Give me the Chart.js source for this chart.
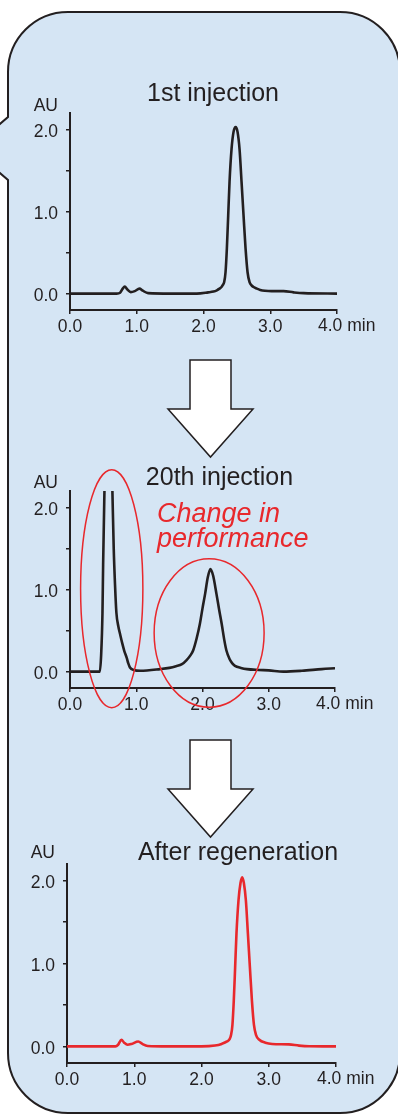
<!DOCTYPE html>
<html>
<head>
<meta charset="utf-8">
<script src="https://cdn.jsdelivr.net/npm/chart.js@4.4.0/dist/chart.umd.min.js"></script>
<style>
  html, body { margin: 0; padding: 0; background: #fff; }
  #page { position: relative; width: 398px; height: 1115px; overflow: hidden; }
  #page svg { position: absolute; left: 0; top: 0; }
  #page canvas { position: absolute; left: 0; }
</style>
</head>
<body>
<div id="page">
  <svg width="398" height="1115">
    <!-- rounded frame with the pointer on the left -->
    <path d="M68 12 H340 A60 60 0 0 1 400 72 V1053 A60 60 0 0 1 340 1113 H68 A60 60 0 0 1 8 1053 V180 L-6 168 V129 L8 117 V72 A60 60 0 0 1 68 12 Z"
          fill="#d5e5f4" stroke="#231f20" stroke-width="2"/>
    <!-- arrows between the runs -->
    <path d="M190 360 H231 V409 H253 L210.5 457 L168 409 H190 Z" fill="#fff" stroke="#231f20" stroke-width="1.5"/>
    <path d="M190 740 H231 V789 H253 L210.5 837 L168 789 H190 Z" fill="#fff" stroke="#231f20" stroke-width="1.5"/>
  </svg>
  <canvas id="grafico1" width="398" height="295" style="top:55px"></canvas>
  <canvas id="grafico2" width="398" height="265" style="top:455px"></canvas>
  <canvas id="grafico3" width="398" height="270" style="top:830px"></canvas>
</div>
<script>
// tick values
const xTicks = [0, 1, 2, 3, 4]
const yTicks = [0, 0.5, 1, 1.5, 2]
const titles = ['1st injection', '20th injection', 'After regeneration']

// 1st injection (min, AU)
const time1 = [0, 0.7, 0.75, 0.79, 0.82, 0.86, 0.91, 0.97, 1.04, 1.09, 1.17, 1.5, 1.9, 2.07, 2.15, 2.20, 2.24, 2.27, 2.29, 2.31, 2.33, 2.35, 2.37, 2.39, 2.42, 2.45, 2.482, 2.51, 2.54, 2.57, 2.60, 2.63, 2.66, 2.69, 2.72, 2.75, 2.8, 2.85, 2.92, 3.02, 3.2, 3.35, 3.5, 4.0]
const au1 = [0, 0, 0.01, 0.06, 0.085, 0.05, 0.018, 0.03, 0.06, 0.035, 0.005, 0, 0, 0.015, 0.025, 0.04, 0.06, 0.08, 0.105, 0.14, 0.26, 0.55, 0.95, 1.36, 1.76, 1.97, 2.03, 1.97, 1.76, 1.36, 0.95, 0.55, 0.26, 0.14, 0.1, 0.08, 0.06, 0.045, 0.035, 0.03, 0.03, 0.015, 0.005, 0]

// 20th injection
const time2 = [0, 0.45, 0.47, 0.49, 0.50, 0.52, 0.54, 0.58, 0.62, 0.64, 0.66, 0.68, 0.70, 0.73, 0.755, 0.79, 0.82, 0.855, 0.88, 0.905, 0.965, 1.06, 1.36, 1.5, 1.6, 1.69, 1.76, 1.82, 1.86, 1.91, 1.96, 2.0, 2.04, 2.08, 2.12, 2.16, 2.21, 2.25, 2.29, 2.33, 2.36, 2.41, 2.45, 2.49, 2.58, 2.67, 2.85, 3.0, 3.22, 3.5, 3.8, 4.0]
const au2 = [0, 0, 0.2, 0.71, 1.3, 2.2, 3.0, 3.5, 2.9, 2.2, 1.5, 1.05, 0.72, 0.55, 0.46, 0.34, 0.25, 0.17, 0.1, 0.05, 0.02, 0.01, 0.03, 0.045, 0.065, 0.09, 0.14, 0.2, 0.26, 0.4, 0.58, 0.77, 0.95, 1.15, 1.25, 1.17, 0.95, 0.76, 0.58, 0.38, 0.26, 0.15, 0.1, 0.07, 0.045, 0.03, 0.02, 0.015, 0, 0.01, 0.03, 0.04]

// after regeneration
const time3 = [0, 0.72, 0.76, 0.81, 0.85, 0.9, 0.96, 1.06, 1.12, 1.2, 1.5, 2.0, 2.2, 2.3, 2.38, 2.42, 2.44, 2.46, 2.48, 2.50, 2.52, 2.55, 2.58, 2.605, 2.63, 2.66, 2.69, 2.72, 2.75, 2.78, 2.81, 2.86, 2.95, 3.05, 3.3, 3.45, 3.6, 4.0]
const au3 = [0, 0, 0.02, 0.08, 0.045, 0.02, 0.03, 0.06, 0.03, 0.005, 0, 0, 0.01, 0.03, 0.06, 0.09, 0.14, 0.26, 0.55, 0.95, 1.36, 1.76, 1.97, 2.04, 1.97, 1.76, 1.36, 0.95, 0.55, 0.26, 0.14, 0.08, 0.045, 0.03, 0.025, 0.01, 0.002, 0]

// circled regions on the 20th run (min, AU)
const circled = [
  { x: 0.63, y: 1.01, rx: 0.47, ry: 1.45 },
  { x: 2.10, y: 0.47, rx: 0.83, ry: 0.905 },
]

const font = "'Liberation Sans', Arial, Helvetica, sans-serif"
const ink = '#231f20'
const red = '#e8282c'

// texts and ellipses drawn on top
const panelText = {
  id: 'panelText',
  afterDraw(chart, args, opts) {
    const { ctx, chartArea, scales } = chart
    ctx.save()
    ctx.fillStyle = ink
    ctx.textBaseline = 'alphabetic'
    ctx.font = '17.5px ' + font
    ctx.textAlign = 'right'
    ctx.fillText('AU', chartArea.left - 12, chartArea.top + opts.auGap)
    ctx.textAlign = 'left'
    ctx.fillText('4.0 min', scales.x.getPixelForValue(4) - 19, chartArea.bottom + 21)
    ctx.font = '25px ' + font
    ctx.textAlign = 'center'
    ctx.fillText(opts.title, opts.titleX, chartArea.top + opts.titleGap)

    if (opts.circles) {
      ctx.strokeStyle = red
      ctx.lineWidth = 1.5
      opts.circles.forEach(c => {
        const cx = scales.x.getPixelForValue(c.x)
        const cy = scales.y.getPixelForValue(c.y)
        const rx = scales.x.getPixelForValue(c.x + c.rx) - cx
        const ry = cy - scales.y.getPixelForValue(c.y + c.ry)
        ctx.beginPath()
        ctx.ellipse(cx, cy, rx, ry, 0, 0, Math.PI * 2)
        ctx.stroke()
      })
    }
    if (opts.notes) {
      ctx.fillStyle = red
      ctx.font = 'italic 27px ' + font
      ctx.textAlign = 'left'
      opts.notes.forEach(n => ctx.fillText(n.text, n.x, chartArea.top + n.dy))
    }
    ctx.restore()
  }
}

function makeChart(id, time, au, color, box, textOpts) {
  const canvas = document.getElementById(id)
  return new Chart(canvas, {
    type: 'line',
    data: {
      datasets: [{
        data: time.map((t, i) => ({ x: t, y: au[i] })),
        borderColor: color,
        borderWidth: 2.6,
        pointRadius: 0,
        cubicInterpolationMode: 'monotone',
        clip: 0,
      }],
    },
    options: {
      responsive: false,
      animation: false,
      layout: { padding: { top: box.top, left: 0, right: 398 - box.right, bottom: 0 } },
      plugins: {
        legend: { display: false },
        tooltip: { enabled: false },
        panelText: textOpts,
      },
      scales: {
        x: {
          type: 'linear',
          min: 0,
          max: 4,
          afterBuildTicks: s => { s.ticks = xTicks.map(v => ({ value: v })) },
          afterFit: s => { s.height = canvas.height - box.bottom },
          ticks: {
            color: ink,
            font: { family: font, size: 17.5 },
            padding: 3,
            maxRotation: 0,
            callback: v => v === 4 ? '' : v.toFixed(1),
          },
          grid: { drawOnChartArea: false, tickLength: 4, color: ink, lineWidth: 1.5 },
          border: { display: true, color: ink, width: 2 },
        },
        y: {
          min: -0.2,
          max: 2.2,
          afterBuildTicks: s => { s.ticks = yTicks.map(v => ({ value: v })) },
          afterFit: s => { s.width = box.left },
          ticks: {
            color: ink,
            font: { family: font, size: 17.5 },
            padding: 8,
            labelOffset: 3,
            callback: v => Number.isInteger(v) ? v.toFixed(1) : '',
          },
          grid: { drawOnChartArea: false, tickLength: 4, color: ink, lineWidth: 1.5 },
          border: { display: true, color: ink, width: 2 },
        },
      },
    },
    plugins: [panelText],
  })
}

makeChart('grafico1', time1, au1, ink,
  { top: 58, bottom: 255, left: 70, right: 337 },
  { title: titles[0], titleX: 213, titleGap: -12, auGap: -2 })

makeChart('grafico2', time2, au2, ink,
  { top: 36, bottom: 233, left: 70, right: 335 },
  { title: titles[1], titleX: 219.5, titleGap: -6, auGap: -3, circles: circled,
    notes: [{ text: 'Change in', x: 157, dy: 31 }, { text: 'performance', x: 157, dy: 56 }] })

makeChart('grafico3', time3, au3, red,
  { top: 34, bottom: 233, left: 67, right: 336 },
  { title: titles[2], titleX: 238, titleGap: -4, auGap: -6 })
</script>
</body>
</html>
